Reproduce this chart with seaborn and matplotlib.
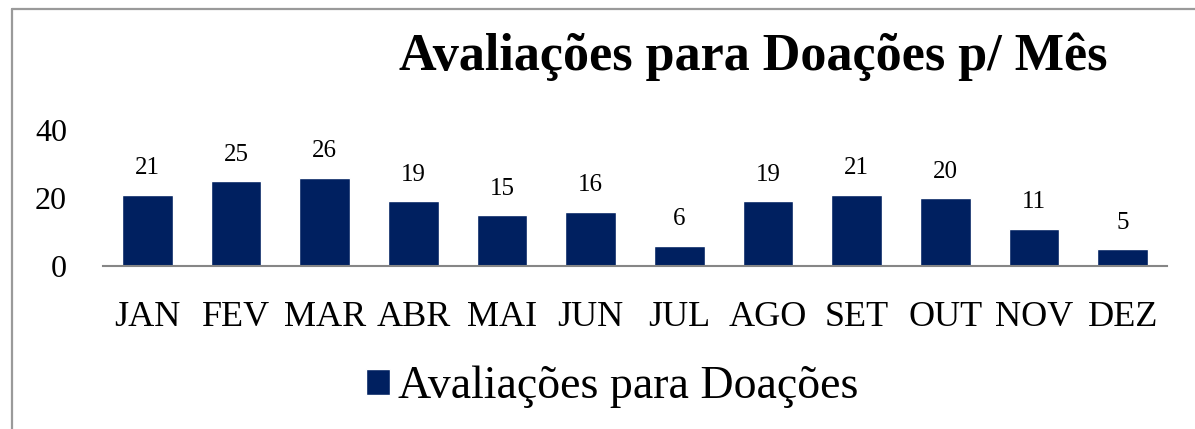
import matplotlib
matplotlib.use("Agg")
import matplotlib.pyplot as plt
import seaborn as sns
import pandas as pd
from matplotlib.lines import Line2D

months = ["JAN", "FEV", "MAR", "ABR", "MAI", "JUN", "JUL", "AGO", "SET", "OUT", "NOV", "DEZ"]
values = [21, 25, 26, 19, 15, 16, 6, 19, 21, 20, 11, 5]
series_name = "Avaliações para Doações"
title = "Avaliações para Doações p/ Mês"
yticks = [0, 20, 40]

sns.set_theme(style="white")
plt.rcParams["font.family"] = ["Liberation Serif", "DejaVu Serif"]
plt.rcParams["text.color"] = "black"
plt.rcParams["xtick.color"] = "black"
plt.rcParams["ytick.color"] = "black"

W, H = 1195, 429
fig = plt.figure(figsize=(W / 100, H / 100), dpi=100)
fig.patch.set_facecolor("white")

ax = fig.add_axes([103 / W, (H - 266) / H, (1167 - 103) / W, (266 - 130) / H])
df = pd.DataFrame({"month": months, "value": values})
sns.barplot(data=df, x="month", y="value", color="#002060", saturation=1,
            width=0.575, ax=ax, label=series_name)
handles, labels = ax.get_legend_handles_labels()
if ax.get_legend() is not None:
    ax.get_legend().remove()

ax.set_ylim(0, 40)
ax.set_xlim(-0.5, len(months) - 0.5)
ax.set_yticks(yticks)
ax.set_yticklabels([str(t) for t in yticks], fontsize=23)
ax.tick_params(axis="y", length=0, pad=26, labelcolor="black")
ax.tick_params(axis="x", length=0, pad=25, labelsize=26, labelcolor="black")
ax.set_xlabel("")
ax.set_ylabel("")
for s in ["top", "right", "left"]:
    ax.spines[s].set_visible(False)
ax.spines["bottom"].set_color("#868686")
ax.spines["bottom"].set_linewidth(1.5)
ax.set_facecolor("white")

for c in ax.containers:
    ax.bar_label(c, padding=11, fontsize=18, color="black")

fig.text(753 / W, 1 - 57 / H, title, ha="center", va="center",
         fontsize=37.5, fontweight="bold", color="black")

fig.legend(handles[:1], labels[:1], loc="center left",
           bbox_to_anchor=(366 / W, 1 - 387 / H), frameon=False,
           fontsize=33, borderpad=0, borderaxespad=0,
           handlelength=0.52, handleheight=0.52, handletextpad=0.17,
           labelcolor="black")

fig.add_artist(Line2D([11.5 / W, 11.5 / W], [0, 1 - 8.5 / H], transform=fig.transFigure,
                      color="#9a9a9a", lw=1.6))
fig.add_artist(Line2D([11.5 / W, 1], [1 - 8.5 / H, 1 - 8.5 / H], transform=fig.transFigure,
                      color="#9a9a9a", lw=1.6))

fig.savefig("out.png", dpi=100, facecolor="white")
